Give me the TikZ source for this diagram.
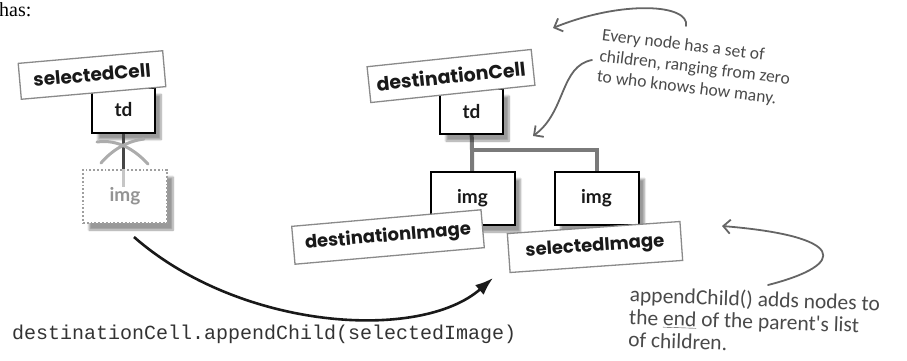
\documentclass[tikz,border=0pt]{standalone}
\usepackage{fontspec}
\setmainfont{Liberation Serif}
\newfontfamily\lblfont{Poppins}
\newfontfamily\boxfont{Lato}
\newfontfamily\handfont{Carlito}
\newfontfamily\codefont{Liberation Mono}
\usetikzlibrary{arrows.meta,shadows,shadows.blur}
\definecolor{treegray}{HTML}{7A7A7A}
\definecolor{handgray}{HTML}{4A4A4A}
\definecolor{lblborder}{HTML}{8A8A8A}
\begin{document}
\begin{tikzpicture}[x=1pt,y=-1pt,
  shd/.style={blur shadow={shadow xshift=6pt, shadow yshift=-7pt, shadow blur steps=8, shadow opacity=40}},
  box/.style={shd, draw=black, line width=2pt, fill=white, inner sep=0pt,
    minimum width=63pt, minimum height=45pt, font=\boxfont\bfseries\fontsize{19}{20}\selectfont, text=black!90},
  imgbox/.style={box, minimum width=84pt, minimum height=53pt},
  ghost/.style={shd, draw=gray!75, line width=1.8pt, dotted, fill=white, inner sep=0pt,
    minimum width=84pt, minimum height=53pt, text=gray!85, font=\boxfont\bfseries\fontsize{19}{20}\selectfont},
  lbl/.style={draw=lblborder, line width=1.3pt, fill=white, inner sep=0pt,
    font=\lblfont\bfseries\fontsize{18.5}{19}\selectfont, text=black!90},
  tree/.style={draw=treegray, line width=4pt},
  darkline/.style={draw=gray!55!black, line width=3.5pt},
  lightline/.style={draw=gray!45, line width=3.5pt},
  xmark/.style={draw=gray!65, line width=3pt, line cap=round},
  hand/.style={text=handgray, align=left, inner sep=0pt},
  handarrow/.style={draw=handgray!85, line width=1.8pt, line cap=round, -{Straight Barb[length=7pt,width=14pt]}},
  bigarrow/.style={draw=black!90, line width=2.6pt, -{Latex[length=18pt,width=13pt]}}
]
\useasboundingbox (0,0) rectangle (907,360);

% left part
\node[anchor=west, font=\fontsize{20}{22}\selectfont, inner sep=0pt] (has) at (-1,10) {has:};
\node[ghost] (imgS) at (125,196.5) {img};
\node[box] (tdL) at (123.5,110) {td};
\draw[darkline] (tdL.south) -- (tdL.south |- imgS.north);
\draw[lightline] (tdL.south |- imgS.north) -- ++(0,18);
\draw[xmark] (97,142) .. controls (118,139) and (135,150) .. (148,164);
\draw[xmark] (101,163) .. controls (113,149) and (128,141) .. (144,139);
\node[lbl, minimum width=145pt, minimum height=36pt, rotate=5] (selCell) at (92,75) {selectedCell};

% right tree
\coordinate (junc) at (472,150);
\draw[tree] (471.5,125) -- (junc) -- (472,180);
\draw[tree] (junc) -| (597,180);
\node[box] (tdR) at (471.5,111.5) {td};
\node[imgbox] (imgL) at (472.5,198.5) {img};
\node[imgbox] (imgR) at (596.5,198.5) {img};
\node[lbl, minimum width=165pt, minimum height=36pt, rotate=6, font=\lblfont\bfseries\fontsize{19}{20}\selectfont] (destCell) at (451,76) {destinationCell};
\node[lbl, minimum width=190pt, minimum height=38pt, rotate=5, font=\lblfont\bfseries\fontsize{18}{19}\selectfont] (destImg) at (388,237) {destinationImage};
\node[lbl, minimum width=173pt, minimum height=39pt, rotate=4, font=\lblfont\bfseries\fontsize{18}{19}\selectfont] (selImg) at (595,247) {selectedImage};

% big arrow
\coordinate (arrS) at (134,237);
\coordinate (arrE) at (493,278);
\draw[bigarrow] (arrS) .. controls (240,330) and (420,342) .. (arrE);

% code
\node[anchor=west, inner sep=0pt, font=\codefont\fontsize{20}{22}\selectfont, text=black!80] (code) at (12,334) {destinationCell.appendChild(selectedImage)};

% annotation 1
\node[hand, font=\handfont\fontsize{17.5}{21}\selectfont, anchor=north west, rotate=-7] (note1) at (603,28) {Every node has a set of\\children, ranging from zero\\to who knows how many.};
\coordinate (a1s) at (686,26);
\coordinate (a1e) at (553,28);
\draw[handarrow] (a1s) .. controls (690,4) and (622,0) .. (a1e);
\coordinate (a2s) at (592,60);
\coordinate (a2e) at (533,136);
\draw[handarrow] (a2s) .. controls (560,66) and (566,112) .. (a2e);

% annotation 2
\node[hand, font=\handfont\fontsize{21.5}{22.5}\selectfont, anchor=north west, rotate=-2] (note2) at (630,286) {appendChild() adds nodes to\\the \underline{end} of the parent's list\\of children.};
\coordinate (a3s) at (768,285);
\coordinate (a3e) at (722,226);
\draw[handarrow] (a3s) .. controls (850,264) and (845,236) .. (a3e);
\end{tikzpicture}
\end{document}
